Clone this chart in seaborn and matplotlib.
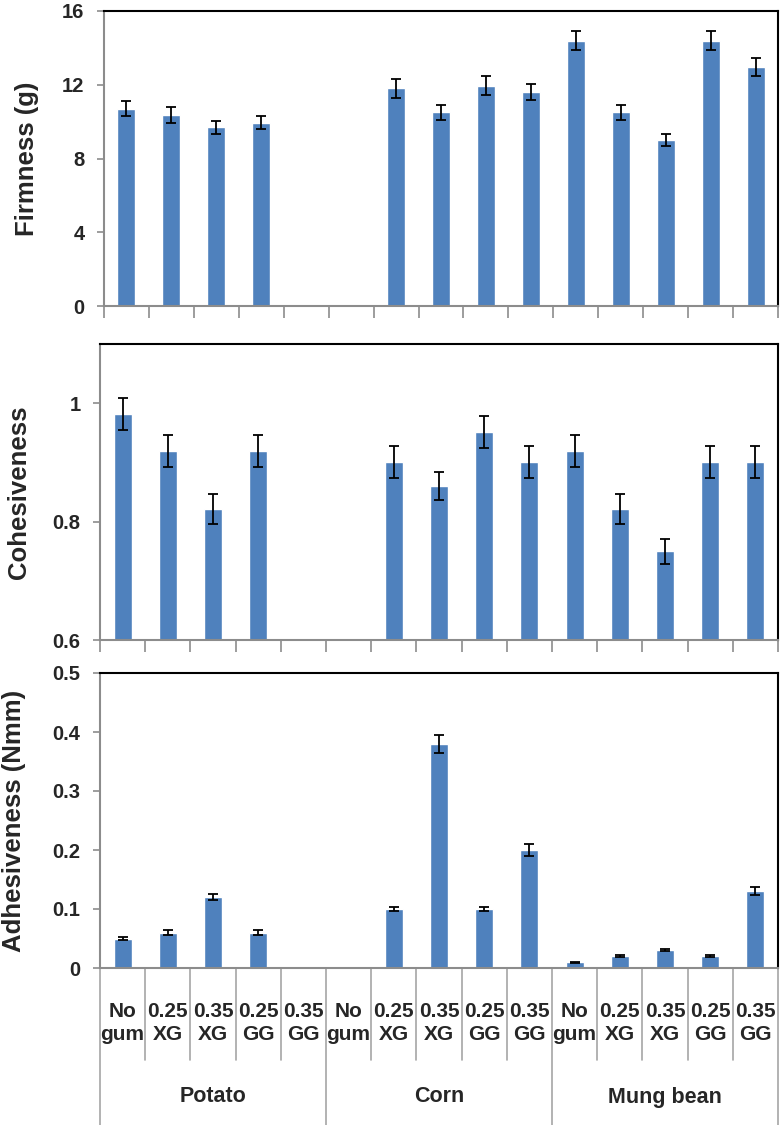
import numpy as np
import pandas as pd
import matplotlib
matplotlib.use("Agg")
import matplotlib.pyplot as plt
import matplotlib.transforms as mtransforms
import seaborn as sns

# --- data ---
starches = ["Potato", "Corn", "Mung bean"]
treatments = ["No\ngum", "0.25\nXG", "0.35\nXG", "0.25\nGG", "0.35\nGG"]

firmness = [10.7, 10.35, 9.7, 9.95, np.nan,
            np.nan, 11.8, 10.5, 11.95, 11.6,
            14.4, 10.5, 9.0, 14.4, 12.95]
firmness_err = [0.42, 0.42, 0.35, 0.33, np.nan,
                np.nan, 0.5, 0.42, 0.5, 0.43,
                0.5, 0.42, 0.33, 0.5, 0.5]

cohesiveness = [0.982, 0.92, 0.821, 0.92, np.nan,
                np.nan, 0.90, 0.86, 0.951, 0.90,
                0.92, 0.821, 0.75, 0.90, 0.90]
cohesiveness_err = [0.027, 0.027, 0.025, 0.027, np.nan,
                    np.nan, 0.027, 0.024, 0.027, 0.027,
                    0.027, 0.025, 0.021, 0.027, 0.027]

adhesiveness = [0.05, 0.06, 0.12, 0.06, np.nan,
                np.nan, 0.10, 0.38, 0.10, 0.20,
                0.01, 0.02, 0.03, 0.02, 0.13]
adhesiveness_err = [0.003, 0.004, 0.005, 0.004, np.nan,
                    np.nan, 0.004, 0.015, 0.004, 0.01,
                    0.001, 0.002, 0.002, 0.002, 0.007]

panels = [
    ("Firmness (g)", firmness, firmness_err, (0, 16), [0, 4, 8, 12, 16], ["0", "4", "8", "12", "16"]),
    ("Cohesiveness", cohesiveness, cohesiveness_err, (0.6, 1.1), [0.6, 0.8, 1.0], ["0.6", "0.8", "1"]),
    ("Adhesiveness (Nmm)", adhesiveness, adhesiveness_err, (0, 0.5),
     [0, 0.1, 0.2, 0.3, 0.4, 0.5], ["0", "0.1", "0.2", "0.3", "0.4", "0.5"]),
]

# --- style ---
sns.set_style("white")
plt.rcParams['font.family'] = ['Liberation Sans', 'DejaVu Sans']
plt.rcParams['font.weight'] = 'bold'

bar_color = "#4F81BD"
grey = "#8C8C8C"

cats = [f"{s}|{t}" for s in starches for t in treatments]
n = len(cats)

fig = plt.figure(figsize=(7.8, 11.25), dpi=100)
W, H = 780, 1125
# axes boxes in pixels: left, right, top, bottom
boxes = [(104, 778, 11, 306), (100, 778, 344, 640), (100, 778, 673, 968)]
label_x = [27, 19, 14]

for i, (ylabel, vals, errs, ylim, yticks, yticklabels) in enumerate(panels):
    l, r, t, b = boxes[i]
    ax = fig.add_axes([l / W, 1 - b / H, (r - l) / W, (b - t) / H])
    df = pd.DataFrame({"cat": cats, "value": vals})
    sns.barplot(data=df, x="cat", y="value", order=cats, color=bar_color,
                saturation=1, width=0.4, errorbar=None, ax=ax)
    ax.errorbar(np.arange(n), vals, yerr=errs, fmt="none", ecolor="black",
                elinewidth=1.3, capsize=3.6, capthick=1.3)
    ax.set_xlim(-0.5, n - 0.5)
    ax.set_ylim(*ylim)
    ax.set_yticks(yticks)
    ax.set_yticklabels(yticklabels, fontsize=14.5, fontweight="bold")
    ax.set_xlabel("")
    ax.set_ylabel("")
    ax.set_xticks(np.arange(n))
    ax.set_xticklabels([])
    ax.tick_params(axis="x", which="major", length=0)
    ax.tick_params(axis="y", which="major", length=5, width=1.2, color=grey,
                   direction="out", pad=9, left=True)
    if i < 2:
        ax.set_xticks(np.arange(-0.5, n, 1.0), minor=True)
        ax.tick_params(axis="x", which="minor", length=8.5, width=1.2,
                       color=grey, direction="out", bottom=True)
    for side in ["left", "bottom"]:
        ax.spines[side].set_color(grey)
        ax.spines[side].set_linewidth(1.5)
    for side in ["top", "right"]:
        ax.spines[side].set_color("black")
        ax.spines[side].set_linewidth(1.5)
        ax.spines[side].set_visible(True)

    ax.text((label_x[i] - l) / (r - l), 0.5, ylabel, transform=ax.transAxes,
            rotation=90, ha="center", va="center", fontsize=18.5, fontweight="bold")

    if i == 2:
        trans = mtransforms.blended_transform_factory(ax.transData, ax.transAxes)
        ph = b - t
        y_cat = -(1023 - b) / ph
        y_grp = -(1097 - b) / ph
        y_short = -(1060 - b) / ph
        y_long = -(1125 - b) / ph
        for k in range(n + 1):
            x = k - 0.5
            y_end = y_long if k % len(treatments) == 0 else y_short
            ax.plot([x, x], [0, y_end], color="#A6A6A6", lw=1.2,
                    transform=trans, clip_on=False)
        for k, c in enumerate(cats):
            ax.text(k, y_cat, c.split("|")[1], transform=trans, ha="center",
                    va="center", fontsize=15, fontweight="bold", linespacing=1.3)
        for g, s in enumerate(starches):
            xc = g * len(treatments) + (len(treatments) - 1) / 2
            ax.text(xc, y_grp, s, transform=trans, ha="center", va="center",
                    fontsize=15.5, fontweight="bold")

fig.savefig("out.png", dpi=100)
